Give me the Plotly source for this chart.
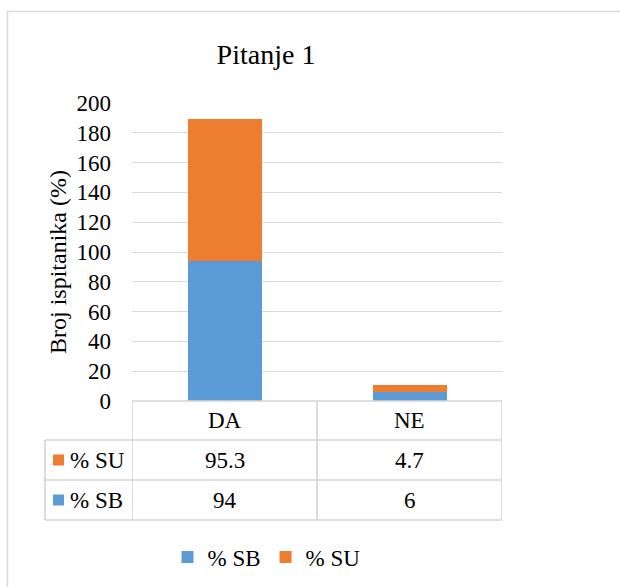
import plotly.graph_objects as go

categories = ["DA", "NE"]
series_names = ["% SB", "% SU"]
sb_values = [94, 6]
su_values = [95.3, 4.7]
y_ticks = [0, 20, 40, 60, 80, 100, 120, 140, 160, 180, 200]

W, H = 620, 587
BLUE = "#5B9BD5"
ORANGE = "#ED7D31"
GRID = "#D9D9D9"
FONT = "Liberation Serif, Times New Roman, serif"

def px(x):
    return x / W

def py(y):
    return 1 - y / H

fig = go.Figure()
fig.add_trace(go.Bar(x=categories, y=sb_values, name=series_names[0],
                     marker=dict(color=BLUE, line=dict(width=0)), width=0.4))
fig.add_trace(go.Bar(x=categories, y=su_values, name=series_names[1],
                     marker=dict(color=ORANGE, line=dict(width=0)), width=0.4))

shapes = []
# outer chart border
shapes.append(dict(type="rect", xref="paper", yref="paper", x0=px(7.5), x1=1.2,
                   y0=-0.2, y1=py(11.5), line=dict(color=GRID, width=1.5)))

line_style = dict(color="#D4D4D4", width=1.6)
# table horizontal lines
shapes.append(dict(type="line", xref="x", yref="paper", x0=-0.5, x1=1.5,
                   y0=py(401), y1=py(401), line=line_style))
for yy in [440, 480, 520]:
    shapes.append(dict(type="line", xref="paper", yref="paper", x0=px(45), x1=px(502),
                       y0=py(yy), y1=py(yy), line=line_style))
# table vertical lines
shapes.append(dict(type="line", xref="paper", yref="paper", x0=px(45), x1=px(45),
                   y0=py(440), y1=py(520), line=line_style))
for xb in [-0.5, 0.5, 1.5]:
    shapes.append(dict(type="line", xref="x", yref="paper", x0=xb, x1=xb,
                       y0=py(401), y1=py(520), line=line_style))

annotations = []
for i, c in enumerate(categories):
    annotations.append(dict(x=i, y=py(420), xref="x", yref="paper", text=c,
                            showarrow=False, yanchor="middle", xanchor="center",
                            font=dict(family=FONT, size=23, color="black")))
rows = [(series_names[1], su_values, ORANGE, 460), (series_names[0], sb_values, BLUE, 500)]
for name, vals, col, yc in rows:
    shapes.append(dict(type="rect", xref="paper", yref="paper", x0=px(53), x1=px(64),
                       y0=py(yc + 5.5), y1=py(yc - 5.5), fillcolor=col, line=dict(width=0)))
    annotations.append(dict(x=px(68), y=py(yc), xref="paper", yref="paper", text=name,
                            showarrow=False, yanchor="middle", xanchor="left",
                            font=dict(family=FONT, size=23, color="black")))
    for i, v in enumerate(vals):
        annotations.append(dict(x=i, y=py(yc), xref="x", yref="paper", text=f"{v:g}",
                                showarrow=False, yanchor="middle", xanchor="center",
                                font=dict(family=FONT, size=23, color="black")))
annotations.append(dict(x=px(58), y=py(262), xref="paper", yref="paper",
                        text="Broj ispitanika (%)", textangle=-90, showarrow=False,
                        xanchor="center", yanchor="middle",
                        font=dict(family=FONT, size=24, color="black")))

fig.update_layout(
    width=W, height=H,
    autosize=False,
    margin=dict(l=0, r=0, t=0, b=0, pad=0, autoexpand=False),
    paper_bgcolor="white", plot_bgcolor="white",
    barmode="stack",
    title=dict(text="Pitanje 1", x=px(266), xanchor="center", y=py(54), yanchor="middle",
               font=dict(family=FONT, size=28, color="black")),
    xaxis=dict(domain=[px(132), px(502)], range=[-0.5, 1.5], showticklabels=False,
               showgrid=False, zeroline=False, showline=False, fixedrange=True,
               automargin=False),
    yaxis=dict(domain=[py(401), py(103)], range=[0, 200], tickvals=y_ticks,
               showgrid=True, gridcolor=GRID, gridwidth=1.2, zeroline=False,
               showline=False, ticklabelstandoff=20, automargin=False,
               tickfont=dict(family=FONT, size=23, color="black")),
    legend=dict(orientation="h", x=px(266.5), xanchor="center", y=py(557), yanchor="middle",
                font=dict(family=FONT, size=23, color="black"), traceorder="normal",
                itemwidth=30),
    shapes=shapes,
    annotations=annotations,
    showlegend=True,
)

fig.write_html("out.html", config={"responsive": False, "displayModeBar": False},
               post_script="document.body.style.margin='0';document.body.style.padding='0';")
